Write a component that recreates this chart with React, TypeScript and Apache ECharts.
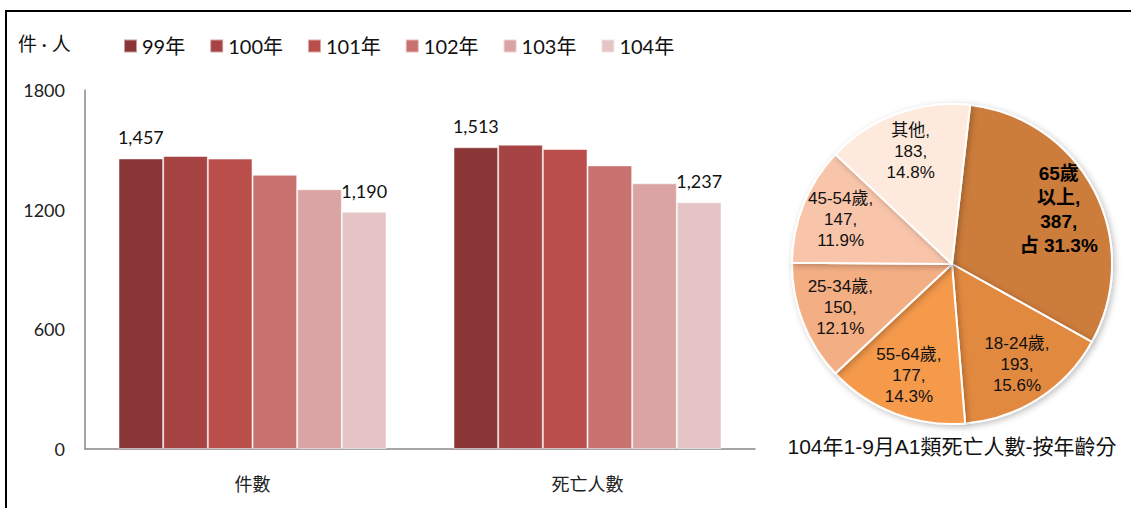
import React, { useEffect, useRef } from "react";
import * as echarts from "echarts";

const categories = ["件數", "死亡人數"];
const years = ["99年", "100年", "101年", "102年", "103年", "104年"];
const v99 = [1457, 1513];
const v100 = [1469, 1526];
const v101 = [1456, 1504];
const v102 = [1375, 1422];
const v103 = [1302, 1332];
const v104 = [1190, 1237];
const barValues = [v99, v100, v101, v102, v103, v104];
const labeledYears = ["99年", "104年"];
const yTicks = [0, 600, 1200, 1800];

const pieNames = ["65歲\n以上", "18-24歲", "55-64歲", "25-34歲", "45-54歲", "其他"];
const pieValues = [387, 193, 177, 150, 147, 183];
const pieTitle = "104年1-9月A1類死亡人數-按年齡分";
const unitLabel = "件 · 人";

const barColors = ["#8B3636", "#A64343", "#B94E4B", "#C87270", "#D9A4A3", "#E5C4C5"];
const pieColors = ["#CC7B3A", "#E2893F", "#F5994B", "#F4AE84", "#F8C5AA", "#FDEADC"];

const latin = "Lato, 'Noto Sans CJK TC', sans-serif";
const arial = "'Liberation Sans', Arial, 'Noto Sans CJK TC', sans-serif";

export default function App() {
  const ref = useRef<HTMLDivElement>(null);
  useEffect(() => {
    document.body.style.margin = "0";
    const chart = echarts.init(ref.current!, null, { renderer: "svg" });
    const total = pieValues.reduce((a, b) => a + b, 0);
    const pieData = pieNames.map((n, i) => ({
      name: n,
      value: pieValues[i],
      itemStyle: { color: pieColors[i] },
    }));
    const fmtPie = (p: any) => {
      const pct = ((p.value / total) * 100).toFixed(1);
      if (p.dataIndex === 0) return `{b|${p.name.replace("\n", "}\n{b|")},}\n{b|${p.value},}\n{b|占 ${pct}%}`;
      return `${p.name},\n${p.value},\n${pct}%`;
    };
    chart.setOption({
      animation: false,
      legend: {
        data: years,
        left: 118,
        top: 31,
        icon: "rect",
        itemWidth: 13,
        itemHeight: 13,
        itemGap: 24,
        textStyle: { fontSize: 20, fontFamily: latin, color: "#111" },
      },
      grid: { left: 85, right: 376, top: 90, bottom: 59 },
      xAxis: {
        type: "category",
        data: categories,
        axisLine: { lineStyle: { color: "#888", width: 1.5 } },
        axisTick: { show: false },
        axisLabel: { fontSize: 18, fontFamily: latin, color: "#222", margin: 26 },
      },
      yAxis: {
        type: "value",
        min: yTicks[0],
        max: yTicks[yTicks.length - 1],
        interval: yTicks[1] - yTicks[0],
        splitLine: { show: false },
        axisLine: { show: true, lineStyle: { color: "#888", width: 1.5 } },
        axisTick: { show: false },
        axisLabel: {
          fontSize: 18,
          fontFamily: latin,
          color: "#222",
          margin: 20,
          formatter: (v: number) => String(v),
        },
      },
      series: [
        ...years.map((y, i) => ({
          type: "bar",
          name: y,
          data: barValues[i],
          barGap: "0%",
          barCategoryGap: "20%",
          itemStyle: { color: barColors[i], borderColor: "rgba(255,255,255,0.5)", borderWidth: 1 },
          label: {
            show: labeledYears.includes(y),
            position: "top",
            distance: 12,
            fontSize: 18,
            fontFamily: latin,
            color: "#111",
            formatter: (p: any) => Number(p.value).toLocaleString("en-US"),
          },
        })),
        {
          type: "pie",
          name: "age",
          center: [952, 264],
          radius: [0, 160],
          startAngle: 83.5,
          clockwise: true,
          data: pieData,
          label: { show: false },
          labelLine: { show: false },
          itemStyle: {
            borderColor: "#fff",
            borderWidth: 2,
            shadowBlur: 6,
            shadowColor: "rgba(0,0,0,0.25)",
            shadowOffsetX: 2,
            shadowOffsetY: 2,
          },
          emphasis: { disabled: true },
        },
        {
          type: "pie",
          name: "ageLabels",
          center: [952, 264],
          radius: [74, 160],
          startAngle: 83.5,
          clockwise: true,
          silent: true,
          data: pieData.map((d) => ({ ...d, itemStyle: { color: "rgba(0,0,0,0)" } })),
          itemStyle: { borderWidth: 0 },
          labelLine: { show: false },
          label: {
            show: true,
            position: "inside",
            fontSize: 17,
            lineHeight: 21,
            fontFamily: arial,
            color: "#111",
            formatter: fmtPie,
            rich: {
              b: { fontSize: 19, lineHeight: 24, fontWeight: "bold", fontFamily: arial, color: "#000" },
            },
          },
          emphasis: { disabled: true },
        },
      ],
      graphic: [
        { type: "line", shape: { x1: 5, y1: 11, x2: 1131, y2: 11 }, style: { stroke: "#000", lineWidth: 2 } },
        { type: "line", shape: { x1: 6, y1: 10, x2: 6, y2: 508 }, style: { stroke: "#000", lineWidth: 2 } },
        {
          type: "text",
          left: 18,
          top: 34,
          style: { text: unitLabel, fontSize: 19, fontFamily: latin, fill: "#111" },
        },
        {
          type: "text",
          x: 952,
          y: 446,
          style: {
            text: pieTitle,
            fontSize: 21,
            fontFamily: arial,
            fill: "#111",
            align: "center",
            verticalAlign: "middle",
          },
        },
      ],
    });
    return () => chart.dispose();
  }, []);
  return <div ref={ref} style={{ width: 1131, height: 508, position: "absolute", left: 0, top: 0 }} />;
}
